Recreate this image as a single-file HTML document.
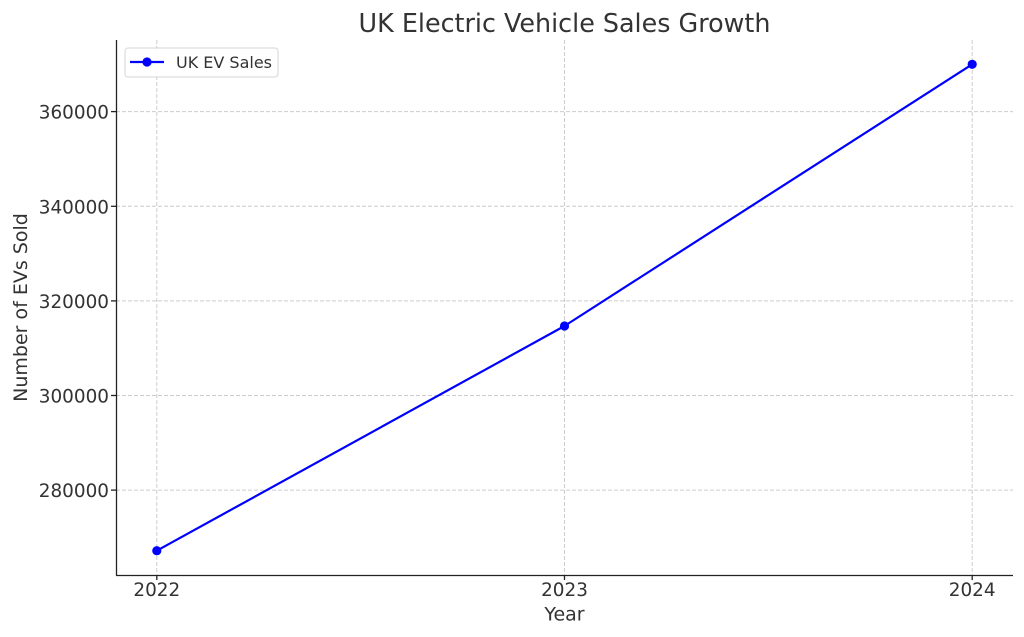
<!DOCTYPE html>
<html>
<head>
<meta charset="utf-8">
<style>
  html, body { margin: 0; padding: 0; background: #ffffff; }
  svg { display: block; }
  text { font-family: "DejaVu Sans", "Liberation Sans", sans-serif; fill: #333333; }
</style>
</head>
<body>
<svg width="1024" height="637" viewBox="0 0 1024 637" xmlns="http://www.w3.org/2000/svg">
  <rect width="1024" height="637" fill="#ffffff"/>
  <!-- grid -->
  <g stroke="#cccccc" stroke-width="1" stroke-dasharray="4,2" fill="none">
    <line x1="156.8" y1="40" x2="156.8" y2="575"/>
    <line x1="564.5" y1="40" x2="564.5" y2="575"/>
    <line x1="972.2" y1="40" x2="972.2" y2="575"/>
    <line x1="116" y1="490.1" x2="1013" y2="490.1"/>
    <line x1="116" y1="395.5" x2="1013" y2="395.5"/>
    <line x1="116" y1="300.9" x2="1013" y2="300.9"/>
    <line x1="116" y1="206.3" x2="1013" y2="206.3"/>
    <line x1="116" y1="111.6" x2="1013" y2="111.6"/>
  </g>
  <!-- spines -->
  <g stroke="#222222" stroke-width="1.3" fill="none">
    <line x1="116.5" y1="40" x2="116.5" y2="575.5"/>
    <line x1="116" y1="575.5" x2="1013" y2="575.5"/>
    <!-- ticks -->
    <line x1="111" y1="490.1" x2="116" y2="490.1"/>
    <line x1="111" y1="395.5" x2="116" y2="395.5"/>
    <line x1="111" y1="300.9" x2="116" y2="300.9"/>
    <line x1="111" y1="206.3" x2="116" y2="206.3"/>
    <line x1="111" y1="111.6" x2="116" y2="111.6"/>
    <line x1="156.8" y1="575" x2="156.8" y2="580"/>
    <line x1="564.5" y1="575" x2="564.5" y2="580"/>
    <line x1="972.2" y1="575" x2="972.2" y2="580"/>
  </g>
  <!-- y tick labels -->
  <g font-size="18.4" text-anchor="end">
    <text x="109" y="497.1">280000</text>
    <text x="109" y="402.5">300000</text>
    <text x="109" y="307.9">320000</text>
    <text x="109" y="213.3">340000</text>
    <text x="109" y="118.6">360000</text>
  </g>
  <!-- x tick labels -->
  <g font-size="18.4" text-anchor="middle">
    <text x="156.8" y="596">2022</text>
    <text x="564.5" y="596">2023</text>
    <text x="972.2" y="596">2024</text>
  </g>
  <!-- axis labels -->
  <text x="564.5" y="620.5" font-size="19" text-anchor="middle">Year</text>
  <text transform="translate(27,307.5) rotate(-90)" font-size="19" text-anchor="middle">Number of EVs Sold</text>
  <!-- title -->
  <text x="564.5" y="32" font-size="25.4" text-anchor="middle">UK Electric Vehicle Sales Growth</text>
  <!-- series -->
  <polyline points="156.8,550.7 564.5,326.0 972.2,64.3" fill="none" stroke="#0000ff" stroke-width="2.2" stroke-linejoin="round"/>
  <g fill="#0000ff">
    <circle cx="156.8" cy="550.7" r="4.6"/>
    <circle cx="564.5" cy="326.0" r="4.6"/>
    <circle cx="972.2" cy="64.3" r="4.6"/>
  </g>
  <!-- legend -->
  <rect x="125" y="48" width="153" height="29" rx="3" ry="3" fill="#ffffff" fill-opacity="0.9" stroke="#d6d6d6" stroke-width="1"/>
  <line x1="130" y1="62" x2="164" y2="62" stroke="#0000ff" stroke-width="2.2"/>
  <circle cx="147" cy="62" r="4.6" fill="#0000ff"/>
  <text x="176" y="68" font-size="16">UK EV Sales</text>
</svg>
</body>
</html>
